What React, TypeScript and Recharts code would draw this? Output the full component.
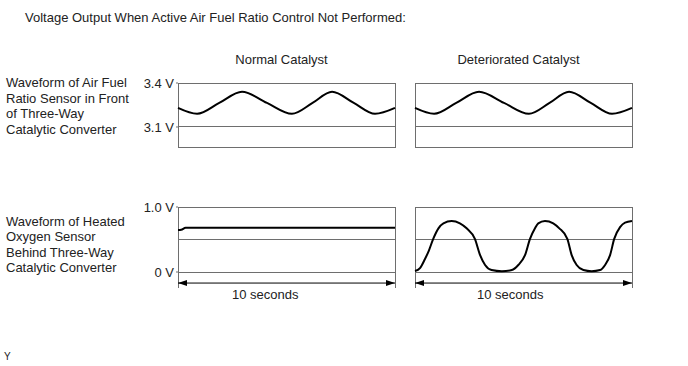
import React from "react";
import {
  LineChart,
  Line,
  XAxis,
  YAxis,
  ReferenceArea,
  ReferenceLine,
} from "recharts";

const FONT = "'Liberation Sans', Arial, sans-serif";
const GRID = "#6e6e6e";

// air fuel ratio sensor, seconds / volts (same trace for both catalysts)
const afTime = [0, 0.88, 1.9, 2.95, 4.1, 5.25, 6.2, 7.1, 8.1, 9.08, 10];
const afVolt = [3.23, 3.19, 3.264, 3.34, 3.264, 3.19, 3.264, 3.34, 3.264, 3.19, 3.23];

// heated oxygen sensor, normal catalyst
const normTime = [0, 0.15, 0.35, 10];
const normVolt = [0.645, 0.65, 0.68, 0.68];

// heated oxygen sensor, deteriorated catalyst
const detTime = [
  0, 0.23, 0.46, 0.64, 0.84, 1.08, 1.31, 1.69, 2.07, 2.38, 2.76, 3.0, 3.23,
  3.53, 4.0, 4.46, 4.76, 5.07, 5.3, 5.53, 5.68, 5.99, 6.37, 6.65, 7.02, 7.22,
  7.45, 7.76, 8.14, 8.53, 8.76, 8.99, 9.18, 9.45, 9.68, 10,
];
const detVolt = [
  0.015, 0.06, 0.2, 0.33, 0.51, 0.672, 0.749, 0.785, 0.749, 0.672, 0.51, 0.26,
  0.108, 0.03, 0.012, 0.03, 0.108, 0.26, 0.51, 0.672, 0.749, 0.785, 0.749,
  0.672, 0.51, 0.26, 0.108, 0.03, 0.012, 0.03, 0.108, 0.26, 0.51, 0.69, 0.76,
  0.785,
];

const afTicks = [3.1, 3.4];
const o2Ticks = [0, 1.0];
const columns = ["Normal Catalyst", "Deteriorated Catalyst"];

const toRows = (ts: number[], vs: number[]) => ts.map((t, i) => ({ t, v: vs[i] }));

const AF_DOMAIN = [2.9636, 3.4];
const O2_DOMAIN = [-0.246, 1];

const fmtVolt = (v: number) => (v === 0 ? "0 V" : `${v.toFixed(1)} V`);

function DimArrow(props: any) {
  const { x1, y1, x2 } = props;
  const y = y1;
  return (
    <g>
      <line x1={x1} y1={y} x2={x2} y2={y} stroke="#000" strokeWidth={1} />
      <polygon points={`${x1},${y} ${x1 + 9},${y - 3} ${x1 + 9},${y + 3}`} fill="#000" />
      <polygon points={`${x2},${y} ${x2 - 9},${y - 3} ${x2 - 9},${y + 3}`} fill="#000" />
    </g>
  );
}

function AfPanel({ withAxis }: { withAxis: boolean }) {
  return (
    <LineChart
      width={withAxis ? 280 : 227}
      height={85}
      data={toRows(afTime, afVolt)}
      margin={{ top: 13, right: 5, bottom: 8, left: withAxis ? 0 : 5 }}
    >
      <XAxis dataKey="t" type="number" domain={[0, 10]} hide />
      <YAxis
        type="number"
        domain={AF_DOMAIN}
        ticks={afTicks}
        interval={0}
        hide={!withAxis}
        width={58}
        axisLine={false}
        tickSize={2}
        tickMargin={2}
        tickLine={{ stroke: GRID }}
        tickFormatter={fmtVolt}
        tick={{ fontSize: 13, fill: "#222", fontFamily: FONT }}
      />
      <ReferenceArea
        x1={0}
        x2={10}
        y1={AF_DOMAIN[0]}
        y2={AF_DOMAIN[1]}
        fill="none"
        fillOpacity={0}
        stroke={GRID}
        strokeOpacity={1}
        shapeRendering="crispEdges"
      />
      <ReferenceLine y={3.1} stroke={GRID} shapeRendering="crispEdges" />
      <Line
        dataKey="v"
        type="monotone"
        stroke="#000"
        strokeWidth={2}
        dot={false}
        isAnimationActive={false}
      />
    </LineChart>
  );
}

function O2Panel({ withAxis, ts, vs }: { withAxis: boolean; ts: number[]; vs: number[] }) {
  return (
    <LineChart
      width={withAxis ? 280 : 227}
      height={100}
      data={toRows(ts, vs)}
      margin={{ top: 12, right: 5, bottom: 7, left: withAxis ? 0 : 5 }}
    >
      <XAxis dataKey="t" type="number" domain={[0, 10]} hide />
      <YAxis
        type="number"
        domain={O2_DOMAIN}
        ticks={o2Ticks}
        interval={0}
        hide={!withAxis}
        width={58}
        axisLine={false}
        tickSize={2}
        tickMargin={2}
        tickLine={{ stroke: GRID }}
        tickFormatter={fmtVolt}
        tick={{ fontSize: 13, fill: "#222", fontFamily: FONT }}
      />
      <ReferenceArea
        x1={0}
        x2={10}
        y1={0}
        y2={1}
        fill="none"
        fillOpacity={0}
        stroke={GRID}
        strokeOpacity={1}
        shapeRendering="crispEdges"
      />
      <ReferenceLine x={0} stroke={GRID} shapeRendering="crispEdges" />
      <ReferenceLine x={10} stroke={GRID} shapeRendering="crispEdges" />
      <ReferenceLine y={0.5} stroke={GRID} shapeRendering="crispEdges" />
      <ReferenceLine y={-0.17} shape={DimArrow} />
      <Line
        dataKey="v"
        type="monotone"
        stroke="#000"
        strokeWidth={2}
        dot={false}
        isAnimationActive={false}
      />
    </LineChart>
  );
}

const abs = (left: number, top: number, extra: React.CSSProperties = {}): React.CSSProperties => ({
  position: "absolute",
  left,
  top,
  ...extra,
});

export default function App() {
  const txt: React.CSSProperties = { fontSize: 13, lineHeight: "15.5px", color: "#222", whiteSpace: "nowrap" };
  return (
    <div
      style={{
        position: "absolute",
        left: 0,
        top: 0,
        width: 688,
        height: 366,
        background: "#fff",
        fontFamily: FONT,
        overflow: "hidden",
      }}
    >
      <div style={abs(25, 10, txt)}>Voltage Output When Active Air Fuel Ratio Control Not Performed:</div>
      <div style={abs(173, 52, { ...txt, width: 217, textAlign: "center" })}>{columns[0]}</div>
      <div style={abs(410, 52, { ...txt, width: 217, textAlign: "center" })}>{columns[1]}</div>

      <div style={abs(6, 75, txt)}>
        Waveform of Air Fuel
        <br />
        Ratio Sensor in Front
        <br />
        of Three-Way
        <br />
        Catalytic Converter
      </div>
      <div style={abs(6, 213.5, txt)}>
        Waveform of Heated
        <br />
        Oxygen Sensor
        <br />
        Behind Three-Way
        <br />
        Catalytic Converter
      </div>

      <div style={abs(120, 70)}>
        <AfPanel withAxis />
      </div>
      <div style={abs(410, 70)}>
        <AfPanel withAxis={false} />
      </div>
      <div style={abs(120, 195)}>
        <O2Panel withAxis ts={normTime} vs={normVolt} />
      </div>
      <div style={abs(410, 195)}>
        <O2Panel withAxis={false} ts={detTime} vs={detVolt} />
      </div>

      <div style={abs(232, 287, txt)}>10 seconds</div>
      <div style={abs(477, 287, txt)}>10 seconds</div>
      <div style={abs(4, 351, { fontSize: 10, lineHeight: "12px", color: "#222" })}>Y</div>
    </div>
  );
}
